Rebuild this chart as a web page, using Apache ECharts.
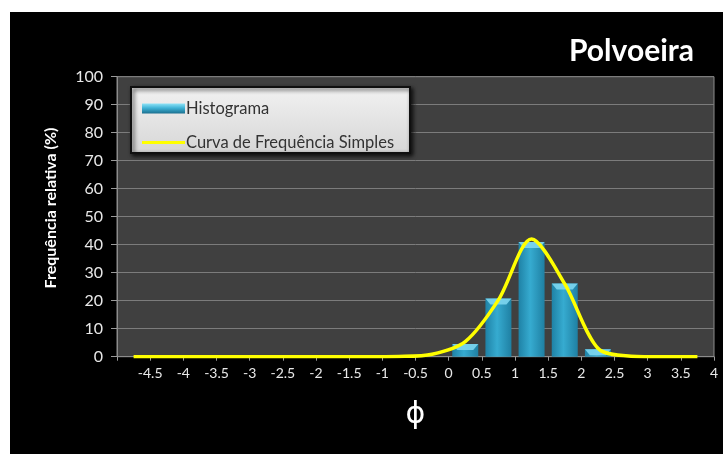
<!DOCTYPE html>
<html>
<head>
<meta charset="utf-8">
<script src="https://cdn.jsdelivr.net/npm/echarts@6/dist/echarts.min.js"></script>
<style>
  html, body { margin: 0; padding: 0; background: #ffffff; }
  #wrap { position: relative; width: 723px; height: 454px; background: #ffffff; overflow: hidden; }
  #chart { position: absolute; left: 10px; top: 12px; width: 713px; height: 442px; background: #000000; }
</style>
</head>
<body>
<div id="wrap"><div id="chart"></div></div>
<script>
// Histogram classes (phi midpoints) and relative frequency (%)
const histPhi = [0.25, 0.75, 1.25, 1.75, 2.25];
const histFreq = [4.5, 20.8, 41.0, 26.1, 2.7];

// Smoothed simple-frequency curve, one point per half-phi class
const curvePhi = [-4.75, -4.25, -3.75, -3.25, -2.75, -2.25, -1.75, -1.25, -0.75, -0.25, 0.25, 0.75, 1.25, 1.75, 2.25, 2.75, 3.25, 3.75];
const curveFreq = [0, 0, 0, 0, 0, 0, 0, 0, 0.1, 0.9, 5.4, 20.3, 42.0, 26.0, 3.0, 0.2, 0, 0];

// Axis settings
const phiMin = -5, phiMax = 4, phiStep = 0.5;
const freqMin = 0, freqMax = 100, freqStep = 10;

const chartTitle = 'Polvoeira';
const xName = 'ϕ';
const yName = 'Frequência relativa (%)';
const histName = 'Histograma';
const curveName = 'Curva de Frequência Simples';

const font = 'Lato, "Open Sans", sans-serif';

const barFill = new echarts.graphic.LinearGradient(0, 0, 1, 0, [
  { offset: 0, color: '#1f82a6' },
  { offset: 0.45, color: '#36abd0' },
  { offset: 1, color: '#1f80a3' }
]);
const legendBarFill = new echarts.graphic.LinearGradient(0, 0, 0, 1, [
  { offset: 0, color: '#8fe3f7' },
  { offset: 0.45, color: '#3fb3d6' },
  { offset: 1, color: '#1b6f8f' }
]);

const chart = echarts.init(document.getElementById('chart'), null, { renderer: 'canvas' });

chart.setOption({
  backgroundColor: '#000000',
  animation: false,
  title: {
    text: chartTitle,
    right: 24,
    top: 19,
    textStyle: { color: '#ffffff', fontFamily: font, fontWeight: 'bold', fontSize: 30 }
  },
  grid: {
    left: 107, right: 9, top: 64.7, bottom: 97.3,
    show: true,
    backgroundColor: '#404040',
    borderColor: '#8c8c8c',
    borderWidth: 1
  },
  legend: {
    orient: 'vertical',
    left: 127,
    top: 82,
    z: 6,
    itemWidth: 43,
    itemHeight: 10,
    itemGap: 15,
    symbolKeepAspect: true,
    textStyle: { color: '#333333', fontFamily: font, fontSize: 16.5, lineHeight: 19, padding: [0, 0, 0, -4] },
    data: [
      { name: histName, icon: 'rect', itemStyle: { color: legendBarFill } },
      { name: curveName, icon: 'path://M0,0 L44,0 L44,3.2 L0,3.2 Z', itemStyle: { color: '#ffff00' } }
    ]
  },
  graphic: [
    {
      type: 'rect',
      z: 3,
      shape: { x: 121, y: 75, width: 279, height: 66 },
      style: {
        fill: new echarts.graphic.LinearGradient(0, 0, 0, 1, [
          { offset: 0, color: '#f2f2f2' },
          { offset: 1, color: '#d6d6d6' }
        ]),
        stroke: '#101010',
        lineWidth: 2,
        shadowBlur: 4,
        shadowColor: 'rgba(0,0,0,0.8)',
        shadowOffsetX: 2,
        shadowOffsetY: 2
      }
    },
    {
      type: 'text',
      z: 5,
      x: 41,
      y: 196,
      rotation: Math.PI / 2,
      style: {
        text: yName,
        fill: '#ffffff',
        font: 'bold 16px ' + font,
        align: 'center',
        verticalAlign: 'middle'
      }
    }
  ],
  xAxis: {
    type: 'value',
    min: phiMin,
    max: phiMax,
    interval: phiStep,
    name: xName,
    nameLocation: 'middle',
    nameGap: 44,
    nameTextStyle: { color: '#ffffff', fontSize: 30, fontFamily: '"DejaVu Sans", sans-serif' },
    axisLine: { show: true, lineStyle: { color: '#8c8c8c', width: 1 } },
    axisTick: { show: true, length: 4, lineStyle: { color: '#9a9a9a' } },
    splitLine: { show: false },
    axisLabel: {
      color: '#e8e8e8',
      fontFamily: font,
      fontSize: 14,
      margin: 10,
      formatter: v => (v === phiMin ? '' : String(v))
    }
  },
  yAxis: {
    type: 'value',
    min: freqMin,
    max: freqMax,
    interval: freqStep,
    axisLine: { show: true, onZero: false, lineStyle: { color: '#8c8c8c' } },
    axisTick: { show: true, inside: false, length: 6, lineStyle: { color: '#9a9a9a' } },
    splitLine: { show: true, lineStyle: { color: '#7c7c7c', width: 1 } },
    axisLabel: { color: '#e8e8e8', fontFamily: font, fontSize: 16, margin: 14 }
  },
  series: [
    {
      name: histName,
      type: 'bar',
      barWidth: 26,
      z: 2,
      itemStyle: { color: barFill },
      data: histPhi.map((p, i) => [p, histFreq[i]])
    },
    {
      name: histName + ' topo',
      type: 'scatter',
      z: 3,
      silent: true,
      symbol: 'path://M0,0 L26,0 L21,6 L5,6 Z',
      symbolSize: [26, 6],
      symbolOffset: [0, 3],
      itemStyle: { color: '#7dd6f0', opacity: 0.9 },
      data: histPhi.map((p, i) => [p, histFreq[i]])
    },
    {
      name: curveName,
      type: 'line',
      z: 4,
      smooth: 0.3,
      symbol: 'none',
      lineStyle: { color: '#ffff00', width: 3.5 },
      itemStyle: { color: '#ffff00' },
      data: curvePhi.map((p, i) => [p, curveFreq[i]])
    }
  ]
});
</script>
</body>
</html>
